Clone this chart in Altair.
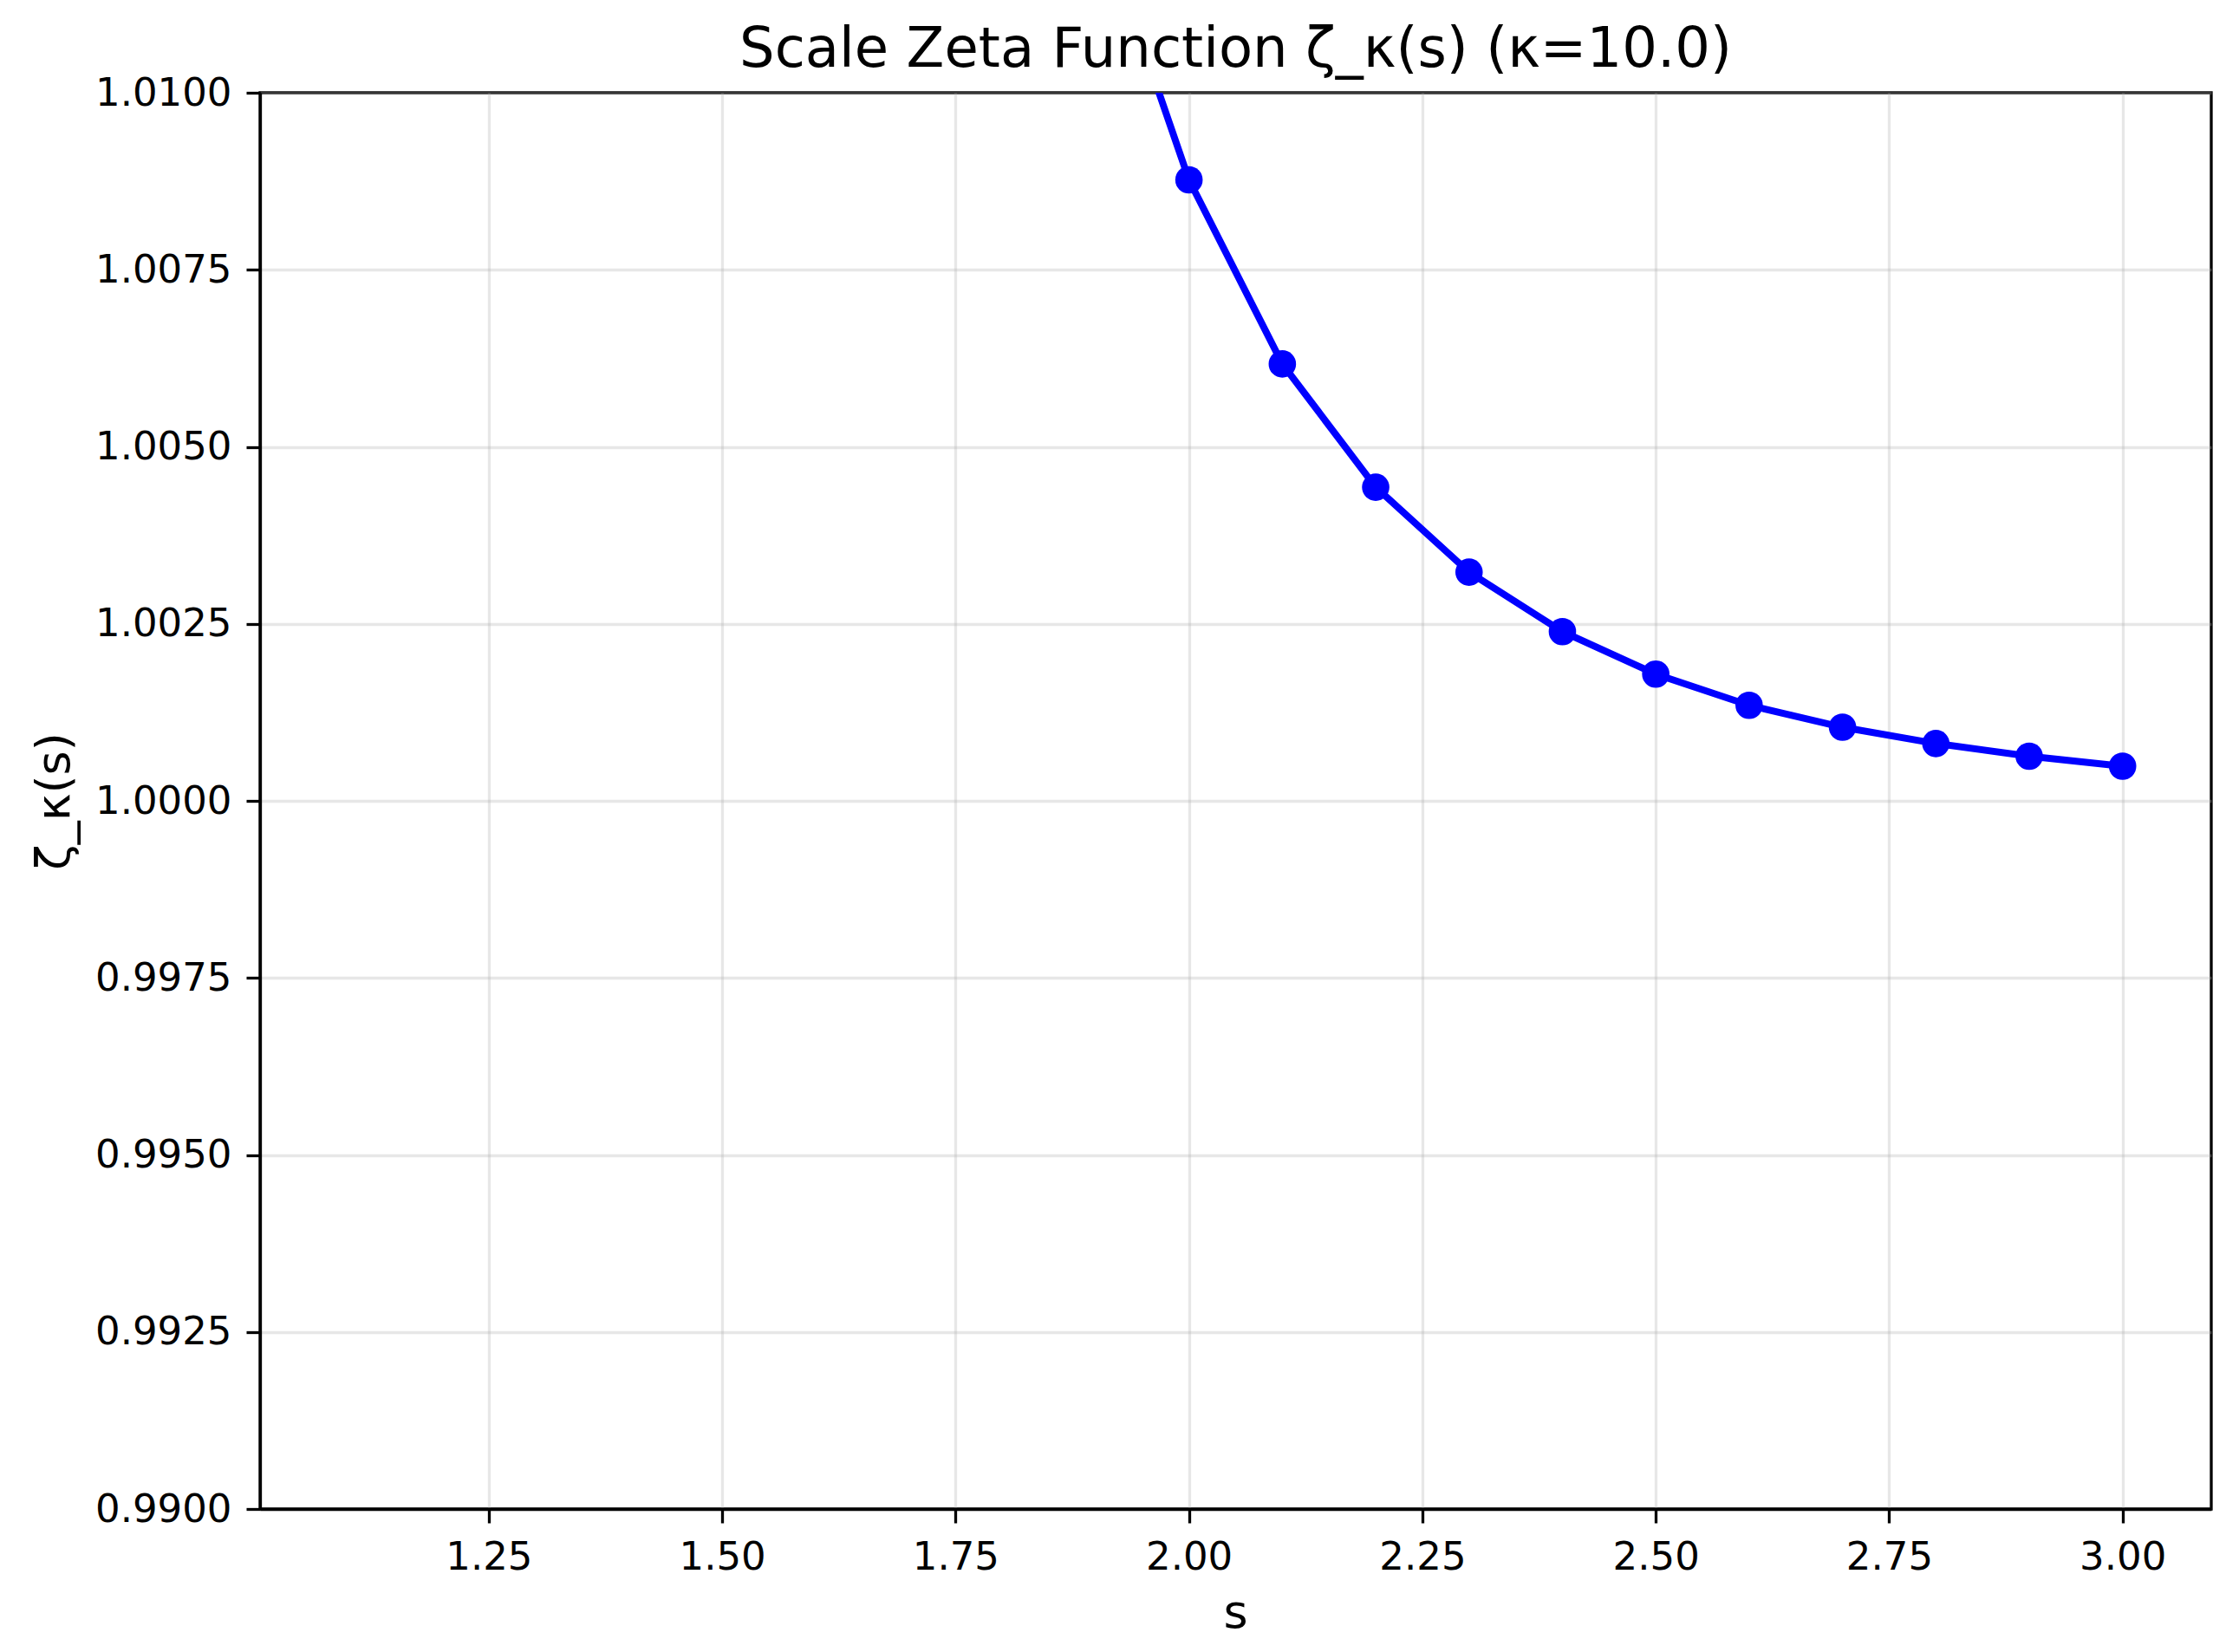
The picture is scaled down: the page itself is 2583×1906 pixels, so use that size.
import altair as alt
import pandas as pd

s_values = [1.1, 1.2, 1.3, 1.4, 1.5, 1.6, 1.7, 1.8, 1.9, 2.0,
            2.1, 2.2, 2.3, 2.4, 2.5, 2.6, 2.7, 2.8, 2.9, 3.0]
zeta_values = [1.45, 1.25, 1.15, 1.095, 1.062, 1.041, 1.0275, 1.0186, 1.0126, 1.00877,
               1.00617, 1.00443, 1.00323, 1.00239, 1.00179, 1.00135, 1.00104, 1.00081, 1.00063, 1.00049]
x_ticks = [1.25, 1.50, 1.75, 2.00, 2.25, 2.50, 2.75, 3.00]
y_ticks = [0.99, 0.9925, 0.995, 0.9975, 1.0, 1.0025, 1.005, 1.0075, 1.01]

df = pd.DataFrame({"s": s_values, "zeta": zeta_values})

FONT = "DejaVu Sans"
BLUE = "#0000ff"

x_enc = alt.X(
    "s:Q",
    scale=alt.Scale(domain=[1.005, 3.095], nice=False, zero=False),
    axis=alt.Axis(
        values=x_ticks, format=".2f", title="s",
        titleX=1125, titleY=120, titleBaseline="middle", titleAnchor="middle",
    ),
)
y_enc = alt.Y(
    "zeta:Q",
    scale=alt.Scale(domain=[0.99, 1.01], nice=False, zero=False),
    axis=alt.Axis(
        values=y_ticks, format=".4f", title="ζ_κ(s)",
        titleX=-237, titleY=817, titleBaseline="middle", titleAnchor="middle",
    ),
)

base = alt.Chart(df).encode(x=x_enc, y=y_enc)
line = base.mark_line(color=BLUE, strokeWidth=8, clip=True)
points = base.mark_point(filled=True, color=BLUE, opacity=1, size=1000, clip=True)

chart = (
    (line + points)
    .properties(
        width=2251,
        height=1634,
        autosize=alt.AutoSizeParams(type="none"),
        padding={"left": 292, "top": 99, "right": 24, "bottom": 150},
        title=alt.TitleParams(
            "Scale Zeta Function ζ_κ(s) (κ=10.0)",
            font=FONT, fontSize=64, fontWeight="normal", color="black",
            anchor="middle", offset=-5,
        ),
    )
    .configure_view(stroke="black", strokeWidth=3.3)
    .configure_axis(
        labelFont=FONT, labelFontSize=45, labelColor="black",
        titleFont=FONT, titleFontSize=54, titleFontWeight="normal", titleColor="black",
        domainColor="black", domainWidth=3.3,
        tickColor="black", tickWidth=3.3, tickSize=16, labelPadding=17,
        grid=True, gridColor="#b0b0b0", gridOpacity=0.3, gridWidth=3.3,
        labelFlush=False, labelOverlap=False,
    )
)

chart.save("out.html", embed_options={"renderer": "svg", "actions": False})
